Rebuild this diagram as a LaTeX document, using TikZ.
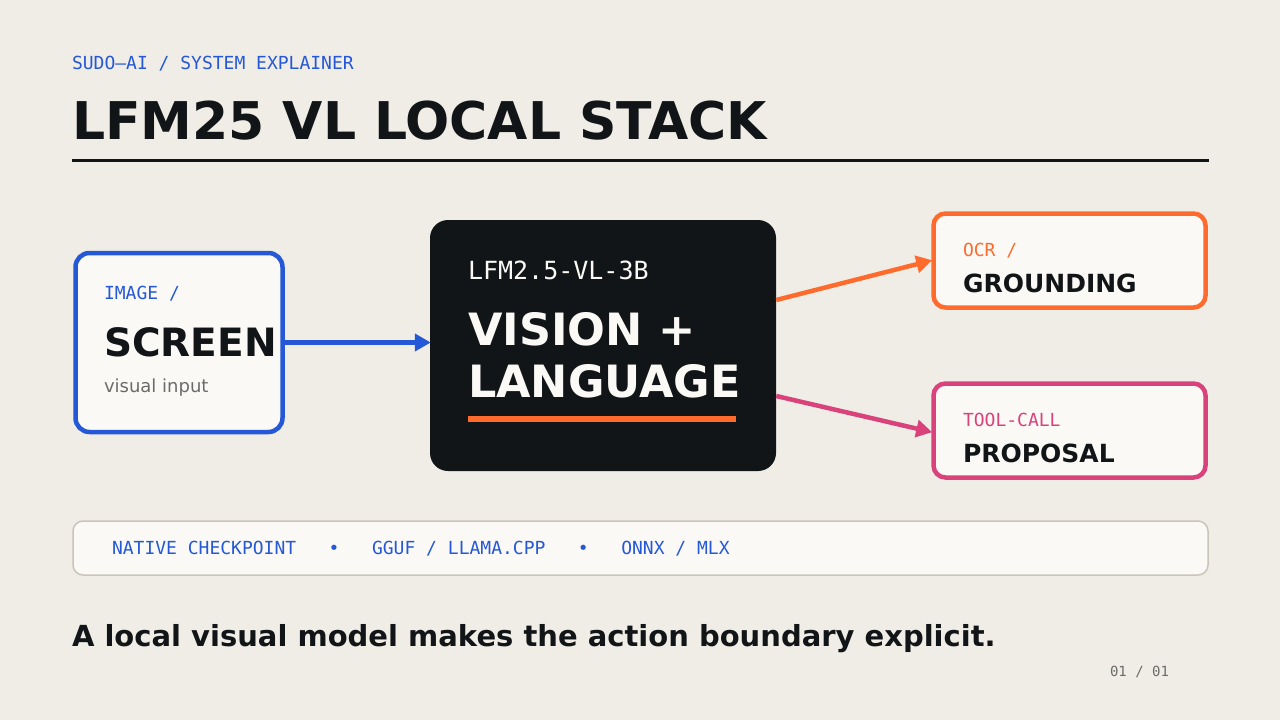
\documentclass[tikz,border=0pt]{standalone}
\usepackage{fontspec}
\setmainfont{DejaVu Sans}
\newfontfamily\monof{DejaVu Sans Mono}
\usetikzlibrary{arrows.meta}
\definecolor{bgc}{HTML}{F0EDE6}
\definecolor{boxfill}{HTML}{FAF9F5}
\definecolor{inkc}{HTML}{121517}
\definecolor{bluec}{HTML}{2558D6}
\definecolor{orangec}{HTML}{FF6B2C}
\definecolor{pinkc}{HTML}{D9427B}
\definecolor{grayc}{HTML}{6B6B6B}
\definecolor{stripc}{HTML}{C9C5B9}
\tikzset{
  txt/.style={anchor=base west, inner sep=0pt, outer sep=0pt},
  monolab/.style={txt, font=\monof\fontsize{18}{18}\selectfont},
  boldlab/.style={txt, font=\bfseries\fontsize{25}{25}\selectfont, text=inkc},
  cardbox/.style={draw, fill=boxfill, line width=4.5pt, rounded corners=12pt, inner sep=0pt},
  conn/.style={line width=4.5pt, -{Triangle[length=16pt,width=17pt]}, shorten >=-1pt}
}
\begin{document}
\begin{tikzpicture}[x=1pt,y=-1pt]
\fill[bgc] (0,0) rectangle (1280,720);
\useasboundingbox (0,0) rectangle (1280,720);
% header
\node[monolab, text=bluec] (kicker) at (72,69) {SUDO—AI / SYSTEM EXPLAINER};
\node[txt, font=\bfseries\fontsize{52}{52}\selectfont, text=inkc] (title) at (72,139) {LFM25 VL LOCAL STACK};
\draw[inkc, line width=3pt] (72,160) -- (1209,160);
% left box
\node[cardbox, draw=bluec, rounded corners=14pt, minimum width=207pt, minimum height=179pt] (screen) at (179,342.5) {};
\node[monolab, text=bluec] (imglab) at (104,299) {IMAGE /};
\node[txt, font=\bfseries\fontsize{39}{39}\selectfont, text=inkc] (screenlab) at (104,356) {SCREEN};
\node[txt, font=\fontsize{18}{18}\selectfont, text=grayc] (vislab) at (104,392) {visual input};
% center box
\node[fill=inkc, rounded corners=18pt, minimum width=346pt, minimum height=251pt, inner sep=0pt] (vl) at (603,345.5) {};
\node[txt, font=\monof\fontsize{25}{25}\selectfont, text=boxfill] (vlname) at (468,279) {LFM2.5-VL-3B};
\node[txt, font=\bfseries\fontsize{44.5}{44.5}\selectfont, text=boxfill] (vl1) at (468,345) {VISION +};
\node[txt, font=\bfseries\fontsize{44.5}{44.5}\selectfont, text=boxfill] (vl2) at (468,397) {LANGUAGE};
\fill[orangec] (468,416) rectangle (736,422);
% right boxes
\node[cardbox, draw=orangec, minimum width=272pt, minimum height=94pt] (ocr) at (1069.5,260.5) {};
\node[monolab, text=orangec] (ocrlab) at (963,256) {OCR /};
\node[boldlab] (groundlab) at (963,292) {GROUNDING};
\node[cardbox, draw=pinkc, minimum width=272pt, minimum height=94pt] (tool) at (1069.5,430.5) {};
\node[monolab, text=pinkc] (toollab) at (963,426) {TOOL-CALL};
\node[boldlab] (proplab) at (963,462) {PROPOSAL};
% connectors
\draw[conn, bluec] (screen.east) -- (screen.east -| vl.west);
\draw[conn, orangec] ([yshift=45.5pt]vl.east) -- (ocr.west);
\draw[conn, pinkc] ([yshift=-50.5pt]vl.east) -- ([yshift=-1.5pt]tool.west);
% strip
\node[draw=stripc, fill=boxfill, line width=1.5pt, rounded corners=10pt, minimum width=1135pt, minimum height=54pt, inner sep=0pt] (strip) at (640.5,548) {};
\node[monolab, text=bluec] (striptext) at (112,554) {NATIVE CHECKPOINT\ \ \ •\ \ \ GGUF / LLAMA.CPP\ \ \ •\ \ \ ONNX / MLX};
% footer
\node[txt, font=\bfseries\fontsize{29}{29}\selectfont, text=inkc] (foot) at (72,646) {A local visual model makes the action boundary explicit.};
\node[txt, font=\monof\fontsize{14}{14}\selectfont, text=grayc] (pagenum) at (1110,676) {01 / 01};
\end{tikzpicture}
\end{document}
